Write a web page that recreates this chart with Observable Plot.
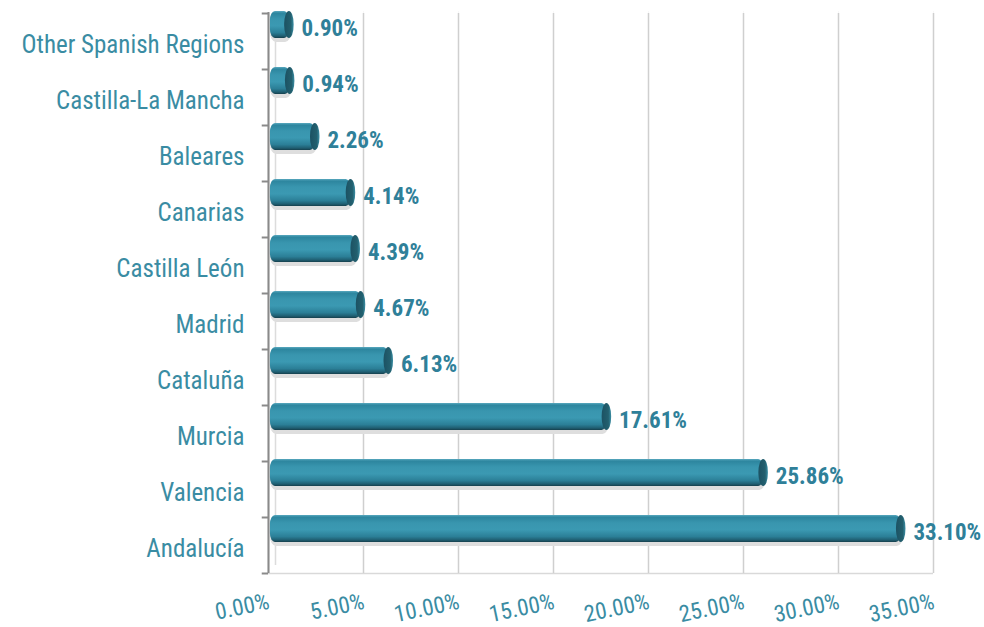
<!DOCTYPE html>
<html>
<head>
<meta charset="utf-8">
<script src="https://cdn.jsdelivr.net/npm/d3@7"></script>
<script src="https://cdn.jsdelivr.net/npm/@observablehq/plot@0.6"></script>
<style>
  html, body { margin: 0; padding: 0; background: #fff; }
  svg { display: block; }
</style>
</head>
<body>
<div id="chart"></div>
<script>
const regions = ["Other Spanish Regions", "Castilla-La Mancha", "Baleares", "Canarias", "Castilla León", "Madrid", "Cataluña", "Murcia", "Valencia", "Andalucía"];
const shares = [0.90, 0.94, 2.26, 4.14, 4.39, 4.67, 6.13, 17.61, 25.86, 33.10];
const xTicks = [0, 5, 10, 15, 20, 25, 30, 35];

const data = regions.map((r, i) => ({region: r, value: shares[i]}));
const FONT = "'Liberation Sans Narrow', 'Arial Narrow', 'Roboto Condensed', 'DejaVu Sans Condensed', sans-serif";
const labelColor = "#3a8ca3";
const valueColor = "#2f8099";

const plot = Plot.plot({
  width: 984,
  height: 627,
  marginLeft: 268,
  marginRight: 51,
  marginTop: 13,
  marginBottom: 54,
  style: {fontFamily: FONT, background: "#fff"},
  x: {domain: [0, 35], axis: null, label: null},
  y: {type: "band", domain: regions, padding: 0, axis: null, label: null},
  marks: [
    // faint gridlines
    Plot.ruleX(xTicks.slice(1), {stroke: "#f8f8f8", strokeWidth: 1, insetTop: -2, insetBottom: 8}),
    // back wall line
    Plot.ruleX([0], {stroke: "#dcdcdc", strokeWidth: 1.5, dx: 7, insetTop: 0, insetBottom: 8}),
    // floor line
    Plot.ruleY([regions[regions.length - 1]], {x1: 0, x2: 35, stroke: "#d9d9d9", strokeWidth: 1.5, dy: 28}),
    // x ticks down
    Plot.tickX(xTicks, {x: d => d, frameAnchor: "bottom", stroke: "#cfcfcf", strokeWidth: 1.5}),
    // bar shadow
    Plot.barX(data, {x1: 0.1, x2: "value", y: "region", insetTop: 1, insetBottom: 29, insetRight: -6, fill: "#dedede", rx: 6, ry: 10, dy: 2}),
    // main bars
    Plot.barX(data, {x1: 0.1, x2: "value", y: "region", insetTop: -2, insetBottom: 31, insetRight: -4, fill: "url(#barGrad)", rx: 5, ry: 9}),
    // end caps
    Plot.barX(data, {x1: d => d.value - 0.05, x2: d => d.value + 0.45, y: "region", insetTop: -2, insetBottom: 31, fill: "url(#capGrad)", rx: 5, ry: 13}),
    // left axis line
    Plot.ruleX([0], {stroke: "#8a8a8a", strokeWidth: 2, insetTop: -1}),
    // left ticks at band boundaries
    Plot.ruleY(regions, {y: d => d, x1: -0.33, x2: 0, dy: -28, stroke: "#8a8a8a", strokeWidth: 2}),
    Plot.ruleY([regions[regions.length - 1]], {x1: -0.33, x2: 0, dy: 28, stroke: "#8a8a8a", strokeWidth: 2}),
    // category labels
    Plot.axisY({tickSize: 0, tickPadding: 24, fontSize: 25, color: labelColor, dy: 3, label: null}),
    // value labels
    Plot.text(data, {x: "value", y: "region", text: d => d.value.toFixed(2) + "%", dx: 16, dy: -13, textAnchor: "start", fill: valueColor, fontSize: 23, fontWeight: "bold"}),
    // x tick labels rotated
    Plot.text(xTicks, {x: d => d, frameAnchor: "bottom", text: d => d.toFixed(2) + "%", dx: 2, dy: 35, rotate: -12, textAnchor: "end", lineAnchor: "bottom", fill: labelColor, fontSize: 23})
  ]
});

// gradients
const svg = d3.select(plot);
const defs = svg.insert("defs", ":first-child");
const g1 = defs.append("linearGradient").attr("id", "barGrad").attr("x1", 0).attr("y1", 0).attr("x2", 0).attr("y2", 1);
[["0%", "#5aa9bf"], ["8%", "#2d869f"], ["30%", "#3996af"], ["55%", "#3b99b2"], ["80%", "#2b7f97"], ["93%", "#1f5d70"], ["100%", "#163f4c"]]
  .forEach(([o, c]) => g1.append("stop").attr("offset", o).attr("stop-color", c));
const g2 = defs.append("linearGradient").attr("id", "capGrad").attr("x1", 0).attr("y1", 0).attr("x2", 1).attr("y2", 0);
[["0%", "#1c5263"], ["70%", "#23606f"], ["100%", "#3a8ea4"]]
  .forEach(([o, c]) => g2.append("stop").attr("offset", o).attr("stop-color", c));

document.getElementById("chart").appendChild(plot);
</script>
</body>
</html>
